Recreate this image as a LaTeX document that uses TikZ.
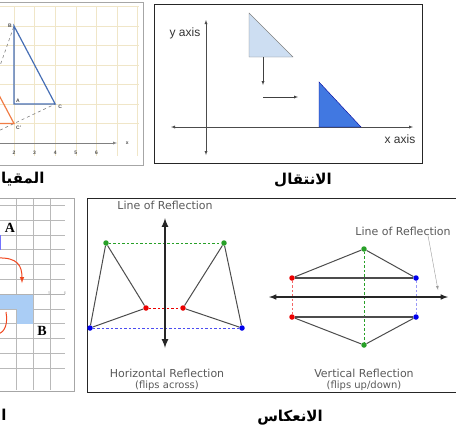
\documentclass[tikz,border=0pt]{standalone}
\usepackage{fontspec}
\setmainfont{Liberation Sans}
\newfontfamily\arabicfont[Script=Arabic]{DejaVu Sans}
\newfontfamily\widefont{DejaVu Sans}
\newfontfamily\seriffont{Liberation Serif}
\TeXXeTstate=1
\usetikzlibrary{positioning,arrows.meta}
\definecolor{gridtan}{RGB}{240,230,200}
\definecolor{triblue}{RGB}{70,110,180}
\definecolor{triorange}{RGB}{240,125,70}
\definecolor{paleblue}{RGB}{205,222,242}
\definecolor{deepblue}{RGB}{65,120,225}
\definecolor{sqblue}{RGB}{170,205,245}
\definecolor{turnred}{RGB}{240,70,30}
\definecolor{dotgreen}{RGB}{40,160,40}
\definecolor{dotred}{RGB}{235,0,0}
\definecolor{dotblue}{RGB}{0,0,235}
\tikzset{every picture/.style={>=latex}}
\tikzset{
  arlabel/.style={font=\arabicfont\bfseries\fontsize{15}{17}\selectfont},
  panel/.style={draw=gray!70, line width=1pt},
  framebox/.style={draw=black!85, line width=1pt},
  ptdot/.style={circle, fill=#1, inner sep=0pt, minimum size=5.5pt},
  triedge/.style={draw=black!70, line width=1pt},
  mirrordash/.style={draw=#1, line width=0.7pt, dash pattern=on 2.5pt off 2pt},
  reflcap/.style={font=\widefont\fontsize{11}{12}\selectfont, text=black!65, inner sep=0pt},
  ticklbl/.style={font=\bfseries\fontsize{5}{6}\selectfont, text=black!70, inner sep=0pt},
  axislbl/.style={font=\fontsize{12}{13}\selectfont, text=black!80, inner sep=0pt},
  bigletter/.style={font=\seriffont\bfseries\fontsize{14}{15}\selectfont, inner sep=0pt}
}

\begin{document}
\begin{tikzpicture}[x=1pt, y=-1pt]
  \useasboundingbox (0,0) rectangle (456,432);
  \clip (0,0) rectangle (456,432);

  % scaling (top left)
  \begin{scope}[shift={(-27.2,143)}, x=20.6pt, y=19.5pt]
    \foreach \gx in {-1,...,8}
      \draw[gridtan] (\gx,-0.67) -- (\gx,7);
    \foreach \gy in {1,...,7}
      \draw[gridtan] (-1.3,\gy) -- (8.05,\gy);
    % axis
    \coordinate (xstart) at (-1.3,0);
    \coordinate (xend) at (7,0);
    \draw[gray, ->] (xstart) -- (xend);
    \node[ticklbl] (xlbl) at (7.5,0) {x};
    \foreach \t in {2,...,6}
      \node[ticklbl] (tick\t) at (\t,-0.5) {\t};

    \coordinate (O) at (0,0);
    \coordinate (A) at (2,2);
    \coordinate (B) at (2,6);
    \coordinate (C) at (4,2);
    \coordinate (A') at (1,1);
    \coordinate (B') at (1,3);
    \coordinate (C') at (2,1);

    % rays from the centre
    \draw[gray, dashed, semithick] (O) -- (B);
    \draw[gray, dashed, semithick] (O) -- (C);

    \draw[triblue, line width=1.2pt] (A) -- (B) -- (C) -- cycle;
    \draw[triorange, line width=1.2pt] (A') -- (B') -- (C') -- cycle;

    \node[ticklbl, left=2pt of B] (Blbl) {B};
    \node[ticklbl, above right=1pt and 2pt of A] (Albl) {A};
    \node[ticklbl, below right=1pt and 3pt of C] (Clbl) {C};
    \node[ticklbl, below right=2pt and 2pt of C'] (C'lbl) {C'};
  \end{scope}
  \draw[panel] (-3,2) rectangle (143,165);
  \node[arlabel, anchor=east] (scaling) at (48,180) {\beginR المقياس\endR};

  % translation (top right)
  \draw[framebox] (154,4) rectangle (422,163);
  \coordinate (ybot) at (206,155);
  \coordinate (ytop) at (206,20);
  \coordinate (xleft) at (171,127);
  \coordinate (xright) at (413,127);
  \draw[black!70, <->] (ybot) -- (ytop);
  \draw[black!70, <->] (xleft) -- (xright);
  \node[axislbl] (ylab) at (185,33) {y axis};
  \node[axislbl] (xlab) at (400,139) {x axis};

  \coordinate (s1) at (249,13);
  \coordinate (s2) at (249,57);
  \coordinate (s3) at (293,57);
  \draw[draw=gray, fill=paleblue] (s1) -- (s2) -- (s3) -- cycle;
  \coordinate (t1) at (319,82);
  \coordinate (t2) at (319,127);
  \coordinate (t3) at (361,127);
  \draw[draw=blue!60!black, fill=deepblue] (t1) -- (t2) -- (t3) -- cycle;

  \coordinate (down1) at (263,57);
  \coordinate (down2) at (263,85);
  \coordinate (right1) at (263,97);
  \coordinate (right2) at (298,97);
  \draw[black!75, ->] (down1) -- (down2);
  \draw[black!75, ->] (right1) -- (right2);
  \node[arlabel] (translation) at (303,180) {\beginR الانتقال\endR};

  % rotation (bottom left)
  \foreach \gx in {16.6,33.2,49.8}
    \draw[gray!55] (\gx,198) -- (\gx,390);
  \foreach \gy in {205.2,220,234.8,249.6,264.4,279.2,308.8,323.6,338.4,353.2,368}
    \draw[gray!55] (-2,\gy) -- (65,\gy);
  \fill[sqblue] (-3,294) rectangle (33.2,308.8);
  \fill[sqblue] (16.6,308.8) rectangle (33.2,323.6);
  \draw[gray!60] (-2,294) -- (65,294);
  \node[ticklbl, text=gray!70, font=\fontsize{4}{5}\selectfont] (five) at (49.5,293) {5};
  \node[ticklbl, text=gray!70, font=\fontsize{4}{5}\selectfont] (six) at (65,293) {6};
  \draw[blue!55, line width=1pt] (0.6,234.8) -- (0.6,249.6);
  \coordinate (turn1a) at (-3,258);
  \coordinate (turn1b) at (22,283);
  \draw[turnred, line width=1pt, ->] (turn1a) .. controls (18,257) and (22,266) .. (turn1b);
  \coordinate (turn2a) at (6,312);
  \coordinate (turn2b) at (-2,334);
  \draw[turnred, line width=1pt] (turn2a) .. controls (8,324) and (5,332) .. (turn2b);
  \node[bigletter] (ptA) at (10,228) {A};
  \node[bigletter] (ptB) at (42,331) {B};
  \draw[panel] (-3,198) rectangle (74,391);
  \node[arlabel, anchor=east] (rotation) at (10,417) {\beginR الدوران\endR};

  % reflection (bottom right)
  \draw[framebox] (87,198) rectangle (460,392);

  % flips across
  \node[reflcap] (lineL) at (165,205) {Line of Reflection};
  \node[ptdot=dotgreen] (g1) at (106,243) {};
  \node[ptdot=dotgreen] (g2) at (224,243) {};
  \node[ptdot=dotred] (r1) at (146,308) {};
  \node[ptdot=dotred] (r2) at (183,308) {};
  \node[ptdot=dotblue] (b1) at (90,328) {};
  \node[ptdot=dotblue] (b2) at (242,328) {};
  \draw[mirrordash=dotgreen] (g1) -- (g2);
  \draw[mirrordash=dotred] (r1) -- (r2);
  \draw[mirrordash=dotblue!70] (b1) -- (b2);
  \draw[triedge] (g1) -- (r1) -- (b1) -- (g1);
  \draw[triedge] (g2) -- (r2) -- (b2) -- (g2);
  \coordinate (mtop) at (165,218);
  \coordinate (mbot) at (165,348);
  \draw[black!85, line width=2pt, <->] (mtop) -- (mbot);
  \node[reflcap] (capL) at (167,373) {Horizontal Reflection};
  \node[reflcap, font=\widefont\fontsize{10}{11}\selectfont, below=3pt of capL] (subL) {(flips across)};

  % flips up/down
  \node[reflcap] (lineR) at (403,231) {Line of Reflection};
  \node[ptdot=dotgreen] (g3) at (364,249) {};
  \node[ptdot=dotred] (r3) at (292,278) {};
  \node[ptdot=dotblue] (b3) at (416,278) {};
  \node[ptdot=dotred] (r4) at (292,317) {};
  \node[ptdot=dotblue] (b4) at (416,317) {};
  \node[ptdot=dotgreen] (g4) at (364,345) {};
  \draw[mirrordash=dotgreen] (g3) -- (g4);
  \draw[mirrordash=dotred!60] (r3) -- (r4);
  \draw[mirrordash=dotblue!40] (b3) -- (b4);
  \draw[triedge] (g3) -- (r3);
  \draw[triedge] (b3) -- (g3);
  \draw[triedge, line width=1.6pt] (r3) -- (b3);
  \draw[triedge] (g4) -- (r4);
  \draw[triedge] (b4) -- (g4);
  \draw[triedge, line width=1.6pt] (r4) -- (b4);
  \coordinate (mleft) at (269,297);
  \coordinate (mright) at (448,297);
  \draw[black!85, line width=1.5pt, <->] (mleft) -- (mright);
  \coordinate (pointer) at (438,290);
  \draw[gray!80, ->] ([xshift=25pt]lineR.south) -- (pointer);
  \node[reflcap] (capR) at (364,373) {Vertical Reflection};
  \node[reflcap, font=\widefont\fontsize{10}{11}\selectfont, below=3pt of capR] (subR) {(flips up/down)};
  \node[arlabel] (reflection) at (290,418) {\beginR الانعكاس\endR};
\end{tikzpicture}
\end{document}
